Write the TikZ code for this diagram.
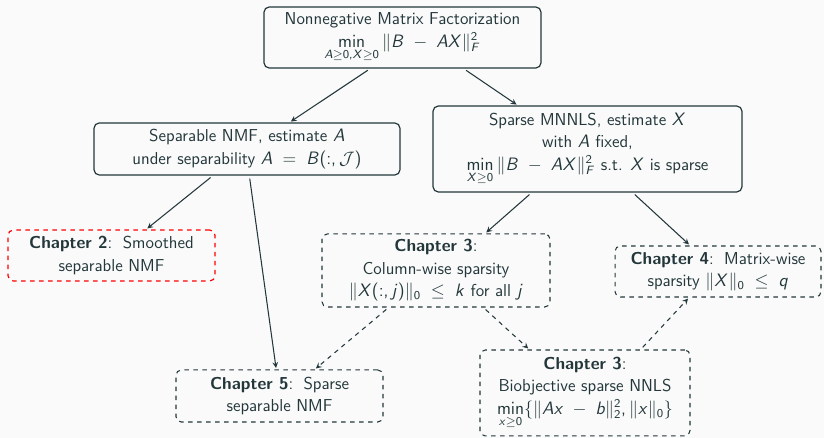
\documentclass[tikz,border=0pt]{standalone}
\usepackage{amsmath}
\usepackage{amssymb}
\usepackage{xcolor}
\usepackage{tikz}
\pgfdeclarelayer{backlayer}
\pgfdeclarelayer{nodelayer}
\pgfdeclarelayer{edgelayer}
\pgfsetlayers{backlayer,edgelayer,nodelayer,main}

% sans-serif math, as in slides
\DeclareMathVersion{sfmath}
\SetSymbolFont{letters}{sfmath}{OT1}{cmss}{m}{sl}
\SetSymbolFont{operators}{sfmath}{OT1}{cmss}{m}{n}
\DeclareMathSymbol{,}{\mathpunct}{operators}{"2C}

\definecolor{mDarkTeal}{HTML}{23373B}
\definecolor{mBackground}{HTML}{FAFAFA}

\tikzset{
  box/.style={draw=mDarkTeal, rounded corners=3.5pt, line width=0.8pt, align=center,
    text=mDarkTeal, font=\fontsize{11.5pt}{15pt}\sffamily\mathversion{sfmath}, inner sep=2pt},
  chapbox/.style={box, dashed, line width=0.7pt},
  redbox/.style={box, dashed, draw=red, line width=0.8pt},
  arrow/.style={-stealth, draw=mDarkTeal, line width=0.7pt, shorten <=2pt, shorten >=1pt},
  dasharrow/.style={arrow, dashed}
}

\begin{document}
\begin{tikzpicture}[x=0.6667pt, y=-0.6667pt]
  \begin{pgfonlayer}{backlayer}
    \fill [mBackground] (0, 0) rectangle (824, 438);
  \end{pgfonlayer}
  \useasboundingbox (0, 0) rectangle (824, 438);
  \begin{pgfonlayer}{nodelayer}
    \node [box, minimum width=184.7pt, minimum height=40.7pt] (0) at (402.5, 37.5)
      {Nonnegative Matrix Factorization\\ $\min\limits_{A\geq 0,X\geq 0}\|B\;-\;AX\|_F^2$};
    \node [box, minimum width=204pt, minimum height=34.7pt] (1) at (247, 149)
      {Separable NMF, estimate $A$\\ under separability $A\;=\;B(:,\mathcal{J})$};
    \node [box, minimum width=206pt, minimum height=57.3pt] (2) at (587.5, 149)
      {Sparse MNNLS, estimate $X$\\ with $A$ fixed,\\ $\min\limits_{X\geq 0}\|B\;-\;AX\|_F^2$ s.t. $X$ is sparse};
    \node [redbox, minimum width=138pt, minimum height=34pt] (3) at (111.5, 255.5)
      {\textbf{Chapter 2}:\, Smoothed\\ separable NMF};
    \node [chapbox, minimum width=152pt, minimum height=48.7pt] (4) at (436, 270.5)
      {\textbf{Chapter 3}:\\ Column-wise sparsity\\ $\|X(:,j)\|_0\;\leq\;k$ for all $j$};
    \node [chapbox, minimum width=137.3pt, minimum height=34pt] (5) at (718, 271.5)
      {\textbf{Chapter 4}:\, Matrix-wise\\ sparsity $\|X\|_0\;\leq\;q$};
    \node [chapbox, minimum width=138pt, minimum height=34.7pt] (6) at (279.5, 396)
      {\textbf{Chapter 5}:\, Sparse\\ separable NMF};
    \node [chapbox, minimum width=140pt, minimum height=57.3pt] (7) at (585, 393)
      {\textbf{Chapter 3}:\\ Biobjective sparse NNLS\\ $\min\limits_{x\geq 0}\{\|Ax\;-\;b\|_2^2,\|x\|_0\}$};
  \end{pgfonlayer}
  \begin{pgfonlayer}{edgelayer}
    \draw [arrow] (0.224) to (1.32);
    \draw [arrow] (0.333) to (2.148);
    \draw [arrow] (1.218) to (3.37);
    \draw [arrow] (1.275.7) to (6.97);
    \draw [arrow] (2.218.5) to (4.37);
    \draw [arrow] (2.316.5) to (5.137.7);
    \draw [dasharrow] (4.218.9) to (6.37.6);
    \draw [dasharrow] (4.322) to (7.142);
    \draw [dasharrow] (7.38) to (5.222.2);
  \end{pgfonlayer}
\end{tikzpicture}
\end{document}
